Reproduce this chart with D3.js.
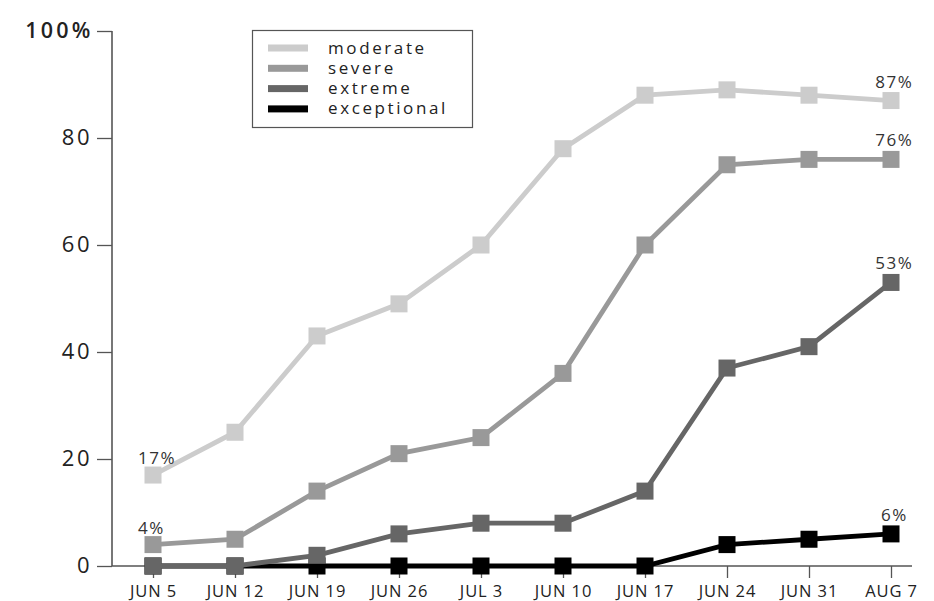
<!DOCTYPE html>
<html>
<head>
<meta charset="utf-8">
<script src="https://cdn.jsdelivr.net/npm/d3@7"></script>
<style>
html,body{margin:0;padding:0;background:#fff;}
svg{display:block;}
text{font-family:"Open Sans",sans-serif;}
</style>
</head>
<body>
<svg id="chart" width="934" height="601"></svg>
<script>
const categories = ["JUN 5","JUN 12","JUN 19","JUN 26","JUL 3","JUN 10","JUN 17","JUN 24","JUN 31","AUG 7"];
const moderate    = [17, 25, 43, 49, 60, 78, 88, 89, 88, 87];
const severe      = [4, 5, 14, 21, 24, 36, 60, 75, 76, 76];
const extreme     = [0, 0, 2, 6, 8, 8, 14, 37, 41, 53];
const exceptional = [0, 0, 0, 0, 0, 0, 0, 4, 5, 6];
const seriesNames = ["moderate","severe","extreme","exceptional"];
const seriesColors = ["#cccccc","#999999","#666666","#000000"];
const yTicks = [0, 20, 40, 60, 80, 100];
const startLabels = [["moderate", "17%"], ["severe", "4%"]];
const endLabels = [["moderate","87%"],["severe","76%"],["extreme","53%"],["exceptional","6%"]];

const seriesData = {moderate, severe, extreme, exceptional};

const svg = d3.select("#chart");
const x = d3.scalePoint().domain(categories).range([153, 891]);
const y = d3.scaleLinear().domain([0, 100]).range([566, 31]);
const color = d3.scaleOrdinal().domain(seriesNames).range(seriesColors);

// y axis
const yAxis = svg.append("g").attr("transform","translate(112,0)")
  .call(d3.axisLeft(y).tickValues(yTicks).tickSize(15).tickPadding(5)
        .tickFormat(d => d === 100 ? "100%" : d));
yAxis.select(".domain").attr("d", `M0,${y(100)}V${y(0)}`).attr("stroke","#555").attr("stroke-width",1.6);
yAxis.selectAll(".tick line").attr("stroke","#555").attr("stroke-width",1.3);
yAxis.selectAll(".tick text").attr("font-size",22).attr("fill","#222")
  .attr("letter-spacing",2.5).attr("dy","0.3em");
yAxis.selectAll(".tick text").filter(d => d === 100)
  .attr("font-size",21.5).attr("font-weight",600).attr("letter-spacing",3.2).attr("dx",1.5);

// x axis
const xAxis = svg.append("g").attr("transform",`translate(0,${y(0)})`)
  .call(d3.axisBottom(x).tickSize(12).tickPadding(7));
xAxis.select(".domain").attr("d", `M112,0H912`).attr("stroke","#555").attr("stroke-width",1.6);
xAxis.selectAll(".tick line").attr("stroke","#555").attr("stroke-width",1.3);
xAxis.selectAll(".tick text").attr("font-size",16.5).attr("fill","#222").attr("letter-spacing",0.9);

// lines
const line = d3.line().x((d,i) => x(categories[i])).y(d => y(d));
const order = seriesNames.slice().reverse();
order.forEach(name => {
  const g = svg.append("g");
  g.append("path").datum(seriesData[name]).attr("d", line)
    .attr("fill","none").attr("stroke", color(name)).attr("stroke-width",4.8)
    .attr("stroke-linejoin","miter");
  g.selectAll("rect").data(seriesData[name]).join("rect")
    .attr("x",(d,i) => x(categories[i]) - 8.5).attr("y", d => y(d) - 8.5)
    .attr("width",17).attr("height",17).attr("fill", color(name));
});

// annotations
startLabels.forEach(([name, label]) => {
  svg.append("text").attr("x", x(categories[0]) - 15).attr("y", y(seriesData[name][0]) - 11)
    .attr("font-size",17).attr("fill","#333").attr("letter-spacing",1.5).text(label);
});
endLabels.forEach(([name, label]) => {
  const v = seriesData[name][categories.length - 1];
  svg.append("text").attr("x", x(categories[categories.length-1]) + 3.3).attr("y", y(v) - 13)
    .attr("text-anchor","middle").attr("font-size",17).attr("fill","#333").attr("letter-spacing",1.5).text(label);
});

// legend
const lg = svg.append("g");
lg.append("rect").attr("x",252.5).attr("y",30.5).attr("width",220).attr("height",97)
  .attr("fill","#fff").attr("stroke","#555").attr("stroke-width",1.2);
seriesNames.forEach((name, i) => {
  const cy = 48 + i * 20.3;
  lg.append("rect").attr("x",268).attr("y",cy - 3.5).attr("width",40).attr("height",7).attr("fill", color(name));
  lg.append("text").attr("x",328).attr("y",cy + 5.5).attr("font-size",17).attr("fill","#222")
    .attr("letter-spacing",2.6).text(name);
});
</script>
</body>
</html>
